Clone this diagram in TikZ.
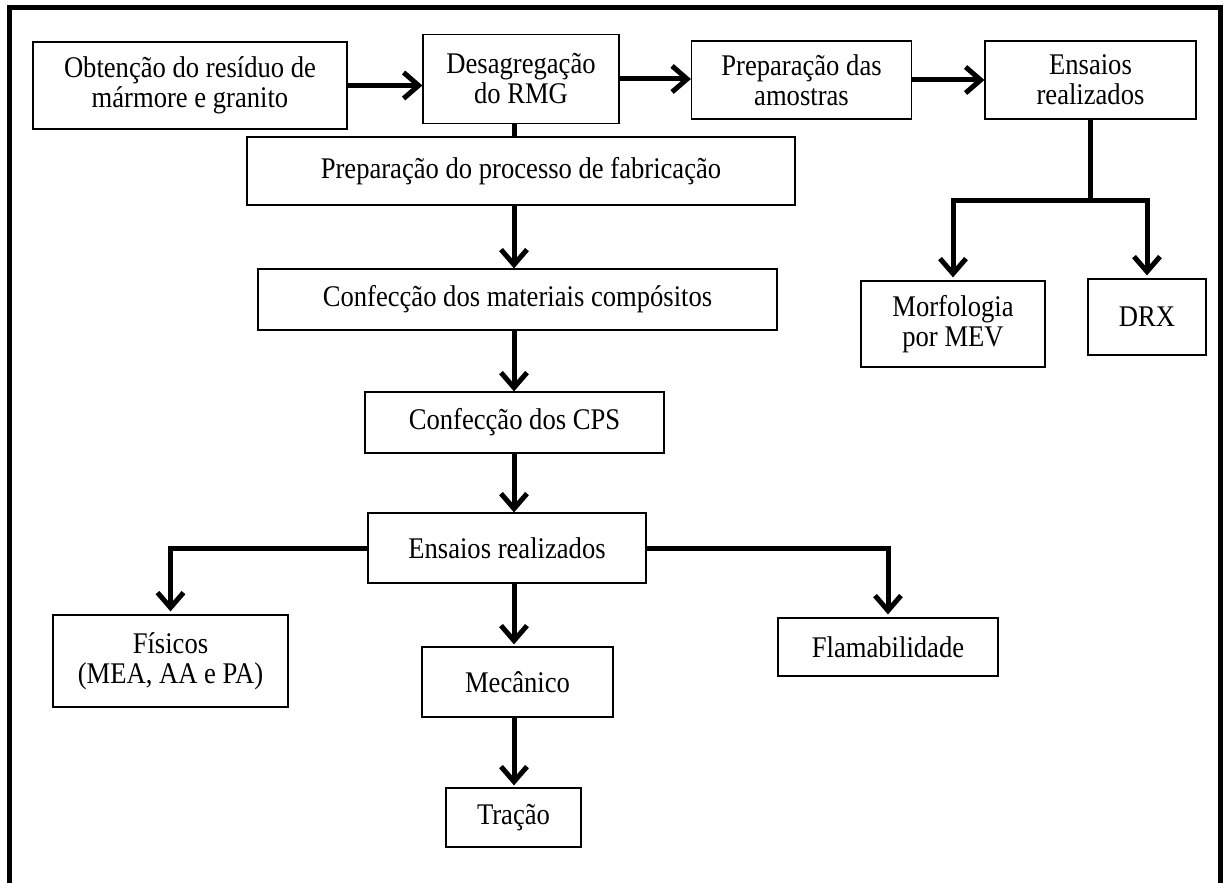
\documentclass[tikz,border=0pt]{standalone}
\usepackage{fontspec}
\setmainfont{Liberation Serif}[FakeStretch=0.887]
\usetikzlibrary{arrows.meta}
\begin{document}
\begin{tikzpicture}[x=1pt,y=-1pt,
  box/.style={draw=black, line width=1.2pt, inner sep=0pt, align=center,
    font=\fontsize{30}{30}\selectfont},
  conn/.style={line width=5pt, draw=black},
  arr/.style={conn, -{Straight Barb[length=15pt,width=26pt]}},
]
\useasboundingbox (0,0) rectangle (1224,883);
\draw[line width=5pt] (9,883) -- (9,8) -- (1220,8) -- (1220,883);

% top row
\node[box, minimum width=314pt, minimum height=87pt] (b1) at (190,85.5) {Obtenção do resíduo de\\mármore e granito};
\node[box, minimum width=196pt, minimum height=89pt] (b2) at (521,79) {Desagregação\\do RMG};
\node[box, minimum width=220pt, minimum height=78pt] (b3) at (801.5,80) {Preparação das\\amostras};
\node[box, minimum width=211pt, minimum height=78pt] (b4) at (1090.5,80) {Ensaios\\realizados};
\node[box, minimum width=184pt, minimum height=86pt] (mev) at (953,324) {Morfologia\\por MEV};
\node[box, minimum width=118pt, minimum height=76pt] (drx) at (1147,317) {DRX};

% main column
\coordinate (col) at (514,0);
\node[box, minimum width=548pt, minimum height=68pt] (prep) at (521,171) {Preparação do processo de fabricação};
\node[box, minimum width=519pt, minimum height=61pt] (mat) at (517.5,299.5) {Confecção dos materiais compósitos};
\node[box, minimum width=299pt, minimum height=61pt] (cps) at (514.5,422.5) {Confecção dos CPS};
\node[box, minimum width=278pt, minimum height=70pt] (ens) at (507,548) {Ensaios realizados};
\node[box, minimum width=235pt, minimum height=92pt] (fis) at (170.5,661) {Físicos\\(MEA, AA e PA)};
\node[box, minimum width=191pt, minimum height=70pt] (mec) at (517.5,682) {Mecânico};
\node[box, minimum width=135pt, minimum height=59pt] (tra) at (513.5,817.5) {Tração};
\node[box, minimum width=220pt, minimum height=58pt] (fla) at (888,647) {Flamabilidade};

% connectors top row
\draw[arr] (b1.east) -- (b2.west |- b1.east);
\draw[arr] (b2.east) -- (b3.west |- b2.east);
\draw[arr] (b3.east) -- (b4.west |- b3.east);
\draw[conn] (b4.south) -- ++(0,81) coordinate (j1);
\draw[arr] (j1) -| ([yshift=3pt]mev.north);
\draw[arr] (j1) -| ([yshift=3pt]drx.north);

% main column connectors
\draw[conn] (b2.south -| col) -- (prep.north -| col);
\draw[arr] (prep.south -| col) -- (mat.north -| col);
\draw[arr] (mat.south -| col) -- (cps.north -| col);
\draw[arr] (cps.south -| col) -- (ens.north -| col);
\draw[arr] (ens.south -| col) -- ([yshift=2pt]mec.north -| col);
\draw[arr] (mec.south -| col) -- ([yshift=2pt]tra.north -| col);
\draw[arr] (ens.west) -| ([yshift=3pt]fis.north);
\draw[arr] (ens.east) -| ([yshift=3pt]fla.north);
\end{tikzpicture}
\end{document}
